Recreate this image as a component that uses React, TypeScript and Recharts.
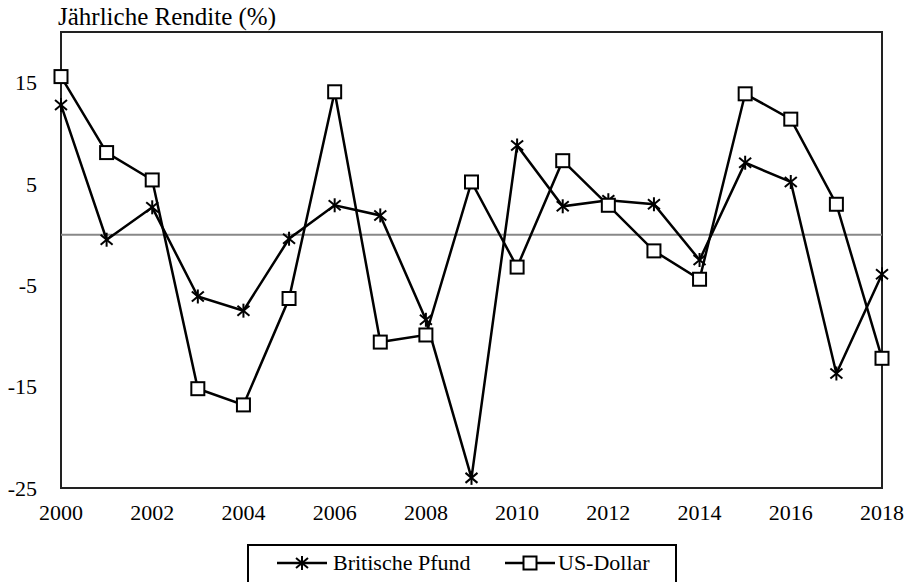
import {
  LineChart,
  Line,
  XAxis,
  YAxis,
  ReferenceLine,
  ReferenceArea,
  Legend,
} from "recharts";

const years = [
  2000, 2001, 2002, 2003, 2004, 2005, 2006, 2007, 2008, 2009, 2010, 2011,
  2012, 2013, 2014, 2015, 2016, 2017, 2018,
];

const britischePfund = [
  12.8, -0.5, 2.7, -6.1, -7.5, -0.4, 2.9, 1.9, -8.4, -24.0, 8.8, 2.8, 3.4,
  3.0, -2.5, 7.1, 5.2, -13.7, -3.9,
];

const usDollar = [
  15.6, 8.1, 5.4, -15.2, -16.8, -6.3, 14.1, -10.6, -9.9, 5.2, -3.2, 7.3, 2.9,
  -1.6, -4.4, 13.9, 11.4, 3.0, -12.2,
];

const xTicks = [2000, 2002, 2004, 2006, 2008, 2010, 2012, 2014, 2016, 2018];
const yTicks = [-25, -15, -5, 5, 15];

const FONT = `"Liberation Serif", "Times New Roman", serif`;

const data = years.map((year, i) => ({
  year,
  gbp: britischePfund[i],
  usd: usDollar[i],
}));

function StarDot(props: any) {
  const { cx, cy } = props;
  if (cx == null || cy == null) return null;
  return (
    <g stroke="#000" strokeWidth={2}>
      <line x1={cx} y1={cy - 7} x2={cx} y2={cy + 7} />
      <line x1={cx - 6} y1={cy - 5} x2={cx + 6} y2={cy + 5} />
      <line x1={cx - 6} y1={cy + 5} x2={cx + 6} y2={cy - 5} />
    </g>
  );
}

function SquareDot(props: any) {
  const { cx, cy } = props;
  if (cx == null || cy == null) return null;
  return (
    <rect
      x={cx - 6.5}
      y={cy - 6.5}
      width={13}
      height={13}
      fill="#fff"
      stroke="#000"
      strokeWidth={2}
    />
  );
}

function LegendBox() {
  return (
    <div
      style={{
        position: "relative",
        boxSizing: "border-box",
        width: 430,
        height: 44,
        border: "2px solid #000",
        background: "#fff",
        fontFamily: FONT,
        fontSize: 22,
        color: "#000",
      }}
    >
      <svg
        width={430}
        height={40}
        style={{ position: "absolute", left: -2, top: -2 }}
      >
        <line x1={30} y1={19} x2={80} y2={19} stroke="#000" strokeWidth={2.5} />
        <StarDot cx={55} cy={19} />
        <line x1={258} y1={19} x2={308} y2={19} stroke="#000" strokeWidth={2.5} />
        <SquareDot cx={283} cy={19} />
      </svg>
      <span style={{ position: "absolute", left: 84, top: 5, lineHeight: "24px" }}>
        Britische Pfund
      </span>
      <span style={{ position: "absolute", left: 309, top: 5, lineHeight: "24px" }}>
        US-Dollar
      </span>
    </div>
  );
}

export default function App() {
  return (
    <div
      style={{
        position: "fixed",
        left: 0,
        top: 0,
        width: 912,
        height: 582,
        background: "#fff",
        overflow: "hidden",
      }}
    >
      <div
        style={{
          position: "absolute",
          left: 58,
          top: 4,
          fontFamily: FONT,
          fontSize: 25,
          lineHeight: "25px",
          color: "#000",
          whiteSpace: "nowrap",
        }}
      >
        Jährliche Rendite (%)
      </div>
      <LineChart
        width={912}
        height={582}
        data={data}
        margin={{ top: 32, right: 30, bottom: 10, left: 0 }}
        style={{ fontFamily: FONT }}
      >
        <XAxis
          dataKey="year"
          type="number"
          domain={[2000, 2018]}
          ticks={xTicks}
          axisLine={false}
          tickLine={false}
          tickSize={0}
          tickMargin={16}
          height={40}
          interval={0}
          tick={{ fill: "#000", fontSize: 22, fontFamily: FONT }}
        />
        <YAxis
          type="number"
          domain={[-25, 20]}
          ticks={yTicks}
          axisLine={false}
          tickLine={false}
          tickSize={0}
          tickMargin={24}
          width={61}
          interval={0}
          tick={{ fill: "#000", fontSize: 22, fontFamily: FONT }}
        />
        <ReferenceArea
          x1={2000}
          x2={2018}
          y1={-25}
          y2={20}
          fill="none"
          stroke="#222"
          strokeWidth={2}
        />
        <ReferenceLine y={0} stroke="#888" strokeWidth={2} />
        <Line
          dataKey="gbp"
          name="Britische Pfund"
          stroke="#000"
          strokeWidth={2.5}
          dot={<StarDot />}
          activeDot={false}
          isAnimationActive={false}
        />
        <Line
          dataKey="usd"
          name="US-Dollar"
          stroke="#000"
          strokeWidth={2.5}
          dot={<SquareDot />}
          activeDot={false}
          isAnimationActive={false}
        />
        <Legend
          content={<LegendBox />}
          wrapperStyle={{ left: 247, top: 544, bottom: "auto", width: 430 }}
        />
      </LineChart>
    </div>
  );
}
